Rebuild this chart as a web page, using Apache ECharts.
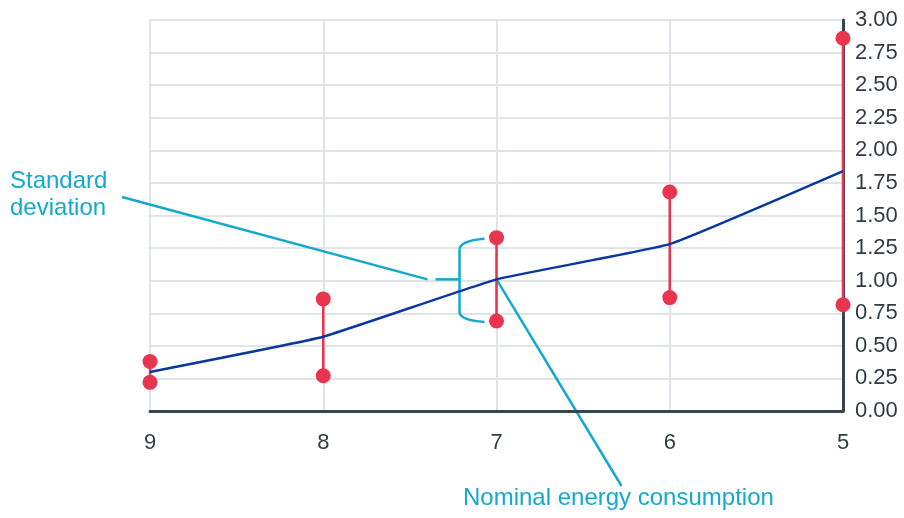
<!DOCTYPE html>
<html>
<head>
<meta charset="utf-8">
<script src="https://cdn.jsdelivr.net/npm/echarts@6/dist/echarts.min.js"></script>
<style>html,body{margin:0;padding:0;background:#fff}#c{width:904px;height:518px}</style>
</head>
<body>
<div id="c"></div>
<script>
const categories = ['9', '8', '7', '6', '5'];
const nominal = [0.30, 0.57, 1.01, 1.28, 1.84];
const sdHigh = [0.38, 0.86, 1.33, 1.68, 2.86];
const sdLow = [0.22, 0.27, 0.69, 0.87, 0.815];
const yTicks = { min: 0, max: 3, interval: 0.25 };

const RED = '#e8344e', BLUE = '#0a38a0', CYAN = '#14a9cc', GRID = '#dee4e7', AXIS = '#3a444c', TXT = '#333b42';
const FONT = '"Liberation Sans", Arial, sans-serif';

const chart = echarts.init(document.getElementById('c'), null, { renderer: 'canvas' });
chart.setOption({
  animation: false,
  grid: { left: 150, right: 61, top: 20, bottom: 107 },
  xAxis: {
    type: 'category', data: categories, boundaryGap: false,
    axisLine: { show: true, lineStyle: { color: AXIS, width: 3 } },
    axisTick: { show: false },
    axisLabel: { color: TXT, fontSize: 22, fontFamily: FONT, margin: 21 },
    splitLine: { show: true, lineStyle: { color: GRID, width: 2 } }
  },
  yAxis: {
    type: 'value', position: 'right', min: yTicks.min, max: yTicks.max, interval: yTicks.interval,
    axisLine: { show: true, lineStyle: { color: AXIS, width: 3 } },
    axisTick: { show: false },
    axisLabel: { color: TXT, fontSize: 22, fontFamily: FONT, margin: 12, formatter: v => v.toFixed(2) },
    splitLine: { show: true, lineStyle: { color: GRID, width: 2 } }
  },
  series: [
    {
      type: 'custom', z: 3, clip: false,
      data: categories.map((c, i) => [i, sdLow[i], sdHigh[i]]),
      renderItem(params, api) {
        const x = api.value(0);
        const p1 = api.coord([x, api.value(2)]);
        const p2 = api.coord([x, api.value(1)]);
        return {
          type: 'group', children: [
            { type: 'line', shape: { x1: p1[0], y1: p1[1], x2: p2[0], y2: p2[1] }, style: { stroke: RED, lineWidth: 2.5 } },
            { type: 'circle', shape: { cx: p1[0], cy: p1[1], r: 7.5 }, style: { fill: RED } },
            { type: 'circle', shape: { cx: p2[0], cy: p2[1], r: 7.5 }, style: { fill: RED } }
          ]
        };
      }
    },
    {
      type: 'line', z: 4, data: nominal, smooth: 0.1, symbol: 'none',
      lineStyle: { color: BLUE, width: 2.5 }
    }
  ]
});

// annotations anchored to the data via the axes
const p7 = chart.convertToPixel({ gridIndex: 0 }, [2, nominal[2]]);
const h7 = chart.convertToPixel({ gridIndex: 0 }, [2, sdHigh[2]]);
const l7 = chart.convertToPixel({ gridIndex: 0 }, [2, sdLow[2]]);
const bx = p7[0] - 37, ax = p7[0] - 12, my = (h7[1] + l7[1]) / 2;
const ls = { stroke: CYAN, lineWidth: 2.5, fill: null };
chart.setOption({
  graphic: [
    { type: 'text', left: 10, top: 168, style: { text: 'Standard\ndeviation', fill: CYAN, font: '24px ' + FONT, lineHeight: 27 } },
    { type: 'line', shape: { x1: 122, y1: 197, x2: bx - 32, y2: my }, style: ls },
    { type: 'line', shape: { x1: bx - 24, y1: my, x2: bx, y2: my }, style: ls },
    { type: 'line', shape: { x1: bx, y1: h7[1] + 12, x2: bx, y2: l7[1] - 9 }, style: ls },
    { type: 'bezierCurve', shape: { x1: bx, y1: h7[1] + 12, cpx1: bx, cpy1: h7[1] + 3, x2: ax, y2: h7[1] + 1 }, style: ls },
    { type: 'bezierCurve', shape: { x1: bx, y1: l7[1] - 9, cpx1: bx, cpy1: l7[1] - 1, x2: ax, y2: l7[1] + 1 }, style: ls },
    { type: 'line', shape: { x1: p7[0], y1: p7[1], x2: p7[0] + 125, y2: 486 }, style: ls },
    { type: 'text', left: 463, top: 486, style: { text: 'Nominal energy consumption', fill: CYAN, font: '24px ' + FONT } }
  ]
});
</script>
</body>
</html>
